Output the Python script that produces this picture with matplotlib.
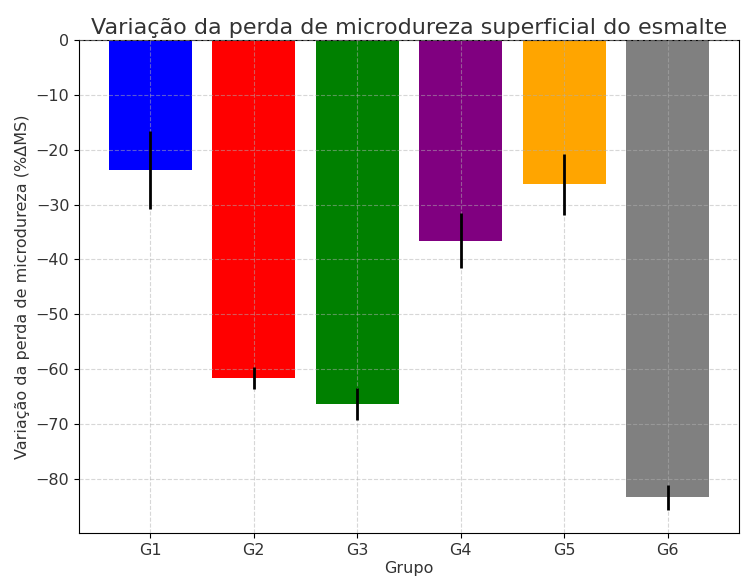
import matplotlib.pyplot as plt

groups = ['G1', 'G2', 'G3', 'G4', 'G5', 'G6']
means = [-23.7, -61.7, -66.3, -36.6, -26.3, -83.4]
errors = [7.1, 2.0, 2.9, 5.0, 5.6, 2.2]
colors = ['blue', 'red', 'green', 'purple', 'orange', 'gray']

fig, ax = plt.subplots(figsize=(7.49, 5.78), dpi=100)
fig.subplots_adjust(left=79/749, right=739/749, top=1-40/578, bottom=1-533/578)

ax.bar(groups, means, yerr=errors, color=colors, ecolor='black',
       error_kw={'elinewidth': 2, 'zorder': 4})
ax.set_title('Variação da perda de microdureza superficial do esmalte',
             fontsize=16, color='#333333', pad=4)
ax.set_xlabel('Grupo', fontsize=11.5, color='#333333', labelpad=2)
ax.set_ylabel('Variação da perda de microdureza (%ΔMS)', fontsize=11.5, color='#333333')
ax.tick_params(labelsize=11.5, labelcolor='#333333')
ax.grid(True, linestyle='--', alpha=0.5, zorder=3)
ax.set_axisbelow(False)

plt.savefig('out.png', dpi=100)
